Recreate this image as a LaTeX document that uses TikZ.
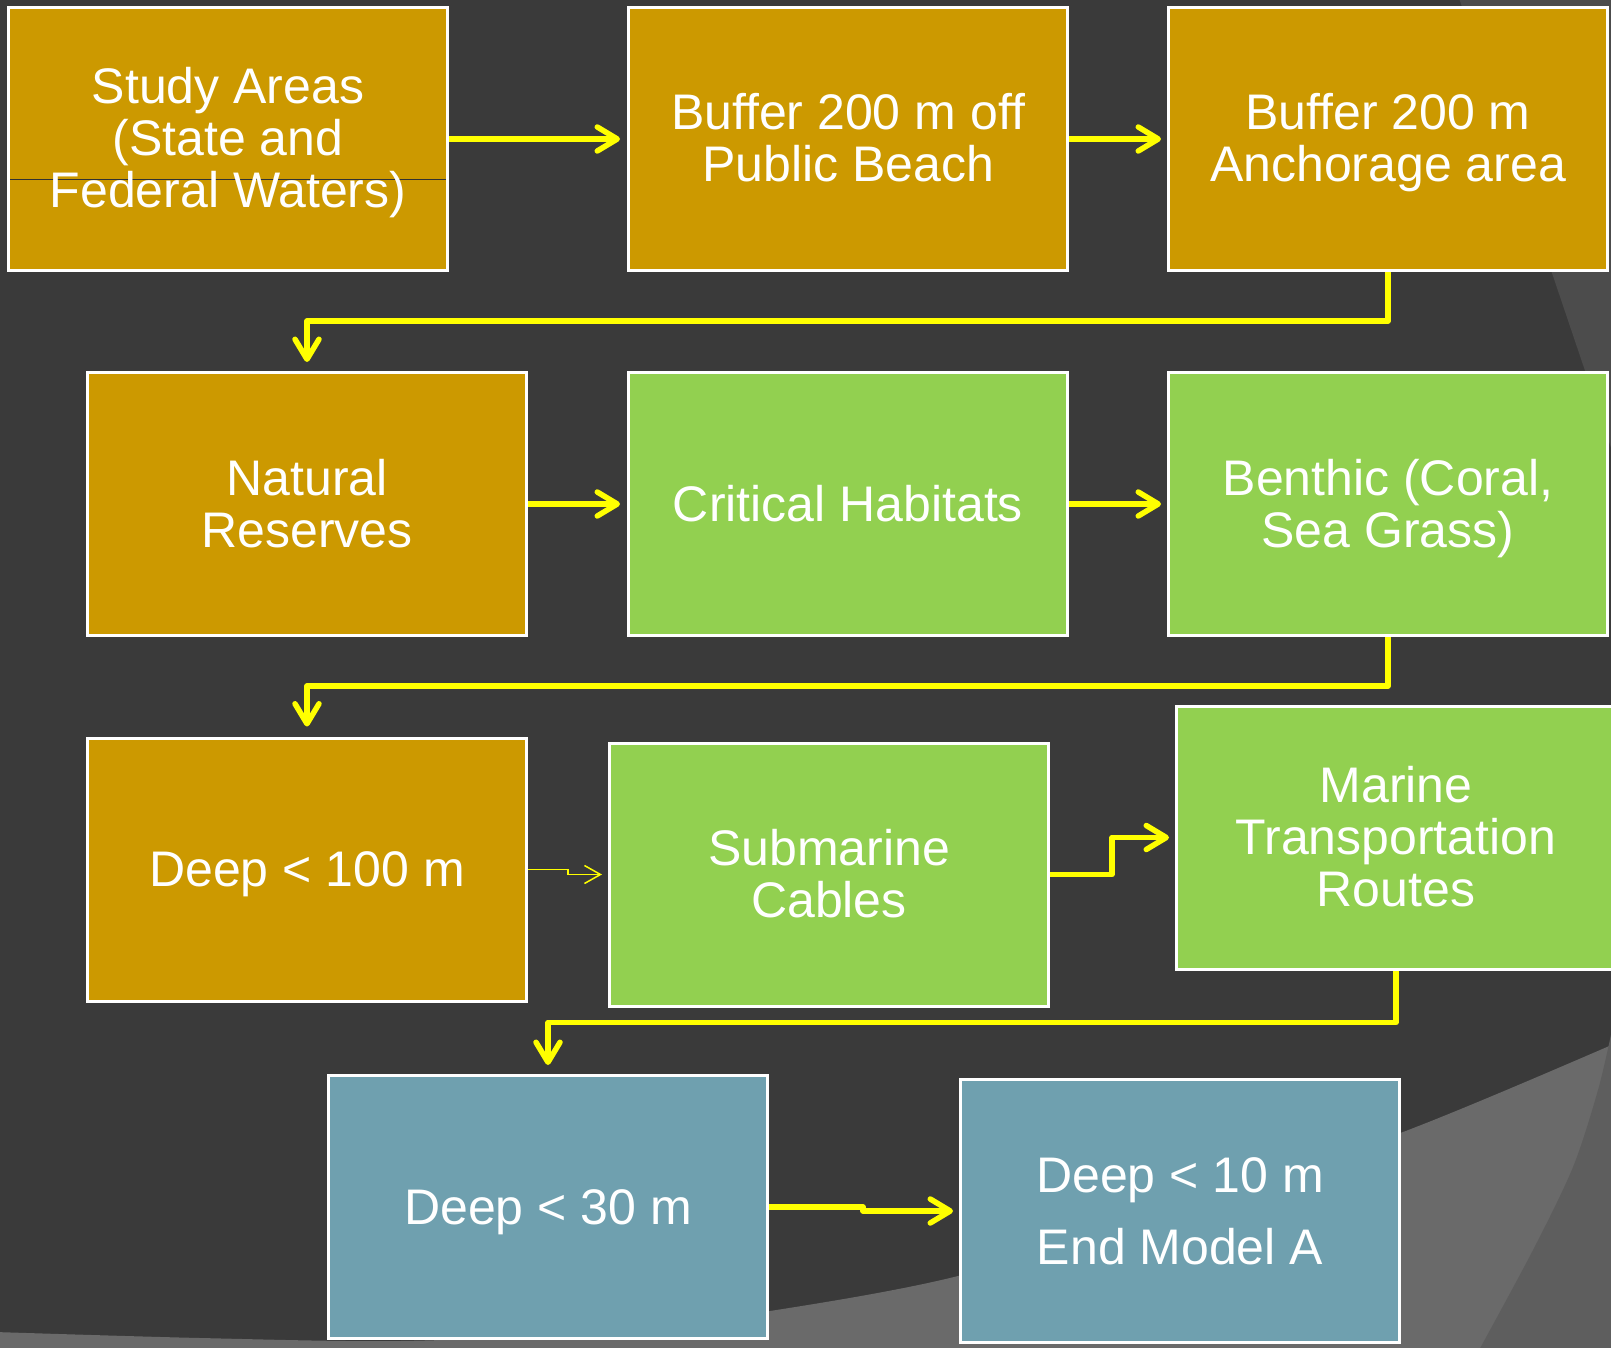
\documentclass[tikz,border=0pt]{standalone}
\usepackage{fontspec}
\setmainfont{Liberation Sans}
\usetikzlibrary{arrows.meta}
\definecolor{bgdark}{RGB}{58,58,58}
\definecolor{swA}{RGB}{106,106,106}
\definecolor{swB}{RGB}{94,94,94}
\definecolor{swC}{RGB}{76,76,76}
\definecolor{gold}{RGB}{204,153,0}
\definecolor{leaf}{RGB}{146,208,80}
\definecolor{steel}{RGB}{111,160,175}
\definecolor{arrowyellow}{RGB}{255,255,0}
\definecolor{strayline}{RGB}{50,50,50}
\newcommand\firstln{\rule{0pt}{45pt}}
\newcommand\lastln{\rule[-11pt]{0pt}{11pt}}
\begin{document}
\begin{tikzpicture}[x=1pt,y=-1pt,
  box/.style={draw=white, line width=3pt, minimum width=439pt, minimum height=263pt,
    inner sep=0pt, text=white, align=center, font=\fontsize{50}{52}\selectfont},
  goldbox/.style={box, fill=gold},
  leafbox/.style={box, fill=leaf},
  steelbox/.style={box, fill=steel},
  arr/.style={draw=arrowyellow, line width=5.5pt, line join=round,
    -{Straight Barb[length=20pt,width=24pt,round]}},
  thinarr/.style={draw=arrowyellow, line width=1.5pt,
    -{Straight Barb[length=16pt,width=18pt]}}]
\useasboundingbox (0,0) rectangle (1611,1348);
% background
\fill[bgdark] (0,0) rectangle (1611,1348);
\fill[swC] (1458,-5) -- (1627,495) -- (1627,-5) -- cycle;
\fill[swA] plot[smooth] coordinates {(-5,1332) (200,1338) (400,1341) (600,1332) (770,1311) (958,1276) (1180,1208) (1403,1132) (1607,1047) (1640,1030)}
  -- (1640,1360) -- (-5,1360) -- cycle;
\fill[swB] plot[smooth] coordinates {(1478,1352) (1533,1250) (1573,1167) (1598,1090) (1612,1030)}
  -- (1640,1020) -- (1640,1360) -- cycle;
% boxes
\node[goldbox, path picture={\draw[strayline, line width=1pt]
    ([yshift=-41pt]path picture bounding box.west) -- ([yshift=-41pt]path picture bounding box.east);}]
  (study) at (228,139) {\firstln Study Areas\\(State and\\Federal Waters)\lastln};
\node[goldbox] (buf) at (848,139) {\firstln Buffer 200 m off\\Public Beach\lastln};
\node[goldbox] (anch) at (1388,139) {\firstln Buffer 200 m\\Anchorage area\lastln};
\node[goldbox] (nat) at (307,504) {\firstln Natural\\Reserves\lastln};
\node[leafbox] (crit) at (848,504) {\firstln Critical Habitats\lastln};
\node[leafbox] (ben) at (1388,504) {\firstln Benthic (Coral,\\Sea Grass)\lastln};
\node[goldbox] (dA) at (307,869.5) {\firstln Deep < 100 m\lastln};
\node[leafbox] (sub) at (829,874.5) {\firstln Submarine\\Cables\lastln};
\node[leafbox] (mar) at (1396,837.5) {\firstln Marine\\Transportation\\Routes\lastln};
\node[steelbox] (dB) at (548,1207) {\firstln Deep < 30 m\lastln};
\node[steelbox] (dC) at (1180,1211) {\firstln Deep < 10 m\\[20pt]End Model A\lastln};
% connectors
\draw[arr, shorten >=7pt] (study.east) -- (buf.west);
\draw[arr, shorten >=6pt] (buf.east) -- (anch.west);
\draw[arr, shorten >=9pt] (anch.south) -- ++(0,49) -| (nat.north);
\draw[arr, shorten >=7pt] (nat.east) -- (crit.west);
\draw[arr, shorten >=6pt] (crit.east) -- (ben.west);
\draw[arr, shorten >=10pt] (ben.south) -- ++(0,49) -| (dA.north);
\draw[thinarr, shorten >=6pt] (dA.east) -- ++(40,0) |- (sub.west);
\draw[arr, shorten >=6pt] (sub.east) -- ++(62,0) |- (mar.west);
\draw[arr, shorten >=9pt] (mar.south) -- ++(0,52) -| (dB.north);
\draw[arr, shorten >=6pt] (dB.east) -- ++(94,0) |- (dC.west);
\end{tikzpicture}
\end{document}
